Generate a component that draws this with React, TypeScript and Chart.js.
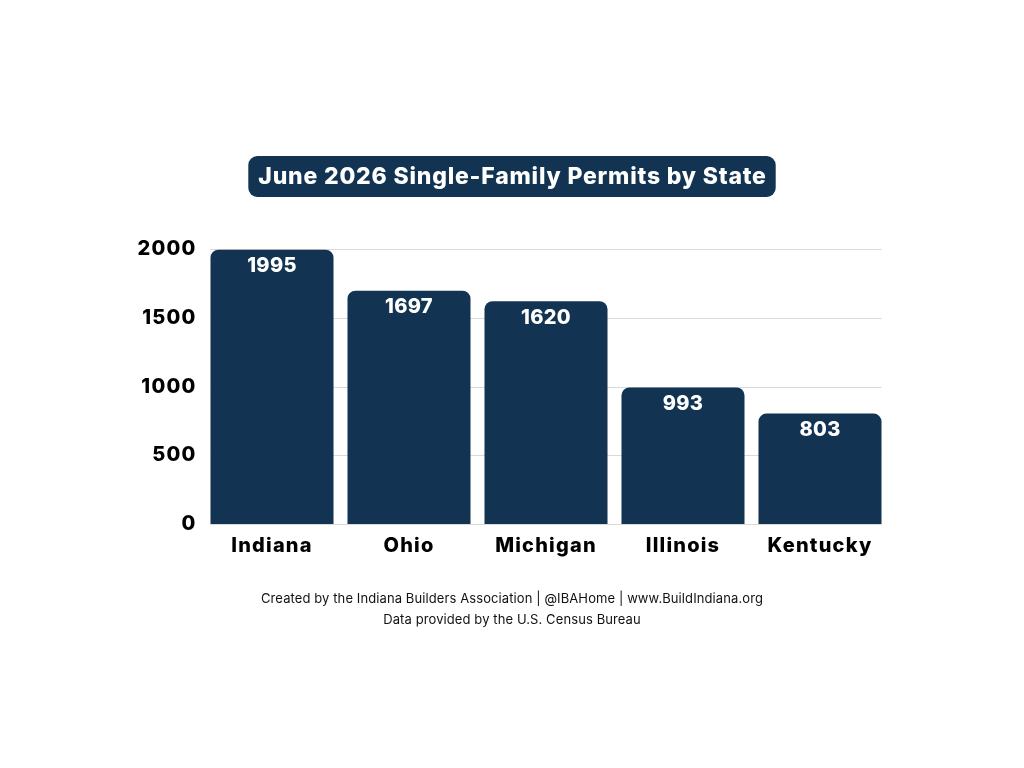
import React, { useEffect, useRef } from "react";
import { Chart, registerables } from "chart.js";

Chart.register(...registerables);

const states = ["Indiana", "Ohio", "Michigan", "Illinois", "Kentucky"];
const permits = [1995, 1697, 1620, 993, 803];
const yTicks = [0, 500, 1000, 1500, 2000];

const titleText = "June 2026 Single-Family Permits by State";
const footerLines = [
  "Created by the Indiana Builders Association | @IBAHome | www.BuildIndiana.org",
  "Data provided by the U.S. Census Bureau",
];

const NAVY = "#123452";
const GRID = "#d9d9d9";
const FONT = "Inter, 'Open Sans', sans-serif";

function roundRect(ctx: CanvasRenderingContext2D, x: number, y: number, w: number, h: number, r: number) {
  ctx.beginPath();
  ctx.moveTo(x + r, y);
  ctx.lineTo(x + w - r, y);
  ctx.arcTo(x + w, y, x + w, y + r, r);
  ctx.lineTo(x + w, y + h - r);
  ctx.arcTo(x + w, y + h, x + w - r, y + h, r);
  ctx.lineTo(x + r, y + h);
  ctx.arcTo(x, y + h, x, y + h - r, r);
  ctx.lineTo(x, y + r);
  ctx.arcTo(x, y, x + r, y, r);
  ctx.closePath();
}

// Gridlines spanning the bars, title badge, footer notes and value labels
const decorations = {
  id: "decorations",
  beforeDraw(chart: any) {
    // slightly wider tracking for the axis labels
    (chart.ctx as any).letterSpacing = "1.2px";
  },
  beforeDatasetsDraw(chart: any) {
    const ctx = chart.ctx as CanvasRenderingContext2D;
    const meta = chart.getDatasetMeta(0);
    const first = meta.data[0].getProps(["x", "width"], true);
    const last = meta.data[meta.data.length - 1].getProps(["x", "width"], true);
    const x0 = first.x - first.width / 2;
    const x1 = last.x + last.width / 2;
    const yScale = chart.scales.y;
    ctx.save();
    ctx.strokeStyle = GRID;
    ctx.lineWidth = 1;
    for (const t of yTicks) {
      const y = Math.round(yScale.getPixelForValue(t)) + 0.5;
      ctx.beginPath();
      ctx.moveTo(x0, y);
      ctx.lineTo(x1, y);
      ctx.stroke();
    }
    ctx.restore();
  },
  afterDraw(chart: any) {
    const ctx = chart.ctx as any;
    const meta = chart.getDatasetMeta(0);
    const cx = chart.width / 2;
    ctx.save();
    ctx.textAlign = "center";
    ctx.textBaseline = "middle";

    // Title badge
    ctx.font = `800 23px ${FONT}`;
    ctx.letterSpacing = "0.8px";
    const tw = ctx.measureText(titleText).width;
    const bw = tw + 19;
    const bh = 41;
    const by = 156;
    ctx.fillStyle = NAVY;
    roundRect(ctx, cx - bw / 2, by, bw, bh, 9);
    ctx.fill();
    ctx.fillStyle = "#ffffff";
    ctx.fillText(titleText, cx + 0.5, by + bh / 2 + 1);

    // Value labels inside the top of each bar
    ctx.font = `800 20px ${FONT}`;
    ctx.letterSpacing = "0.3px";
    meta.data.forEach((bar: any, i: number) => {
      const p = bar.getProps(["x", "y"], true);
      ctx.fillText(String(permits[i]), p.x, p.y + 16.5);
    });

    // Footer notes
    ctx.fillStyle = "#111111";
    ctx.font = `400 13px ${FONT}`;
    ctx.letterSpacing = "0.1px";
    ctx.fillText(footerLines[0], cx, 599);
    ctx.fillText(footerLines[1], cx, 620);
    ctx.restore();
  },
};

export default function App() {
  const canvasRef = useRef<HTMLCanvasElement | null>(null);

  useEffect(() => {
    if (!canvasRef.current) return;
    const chart = new Chart(canvasRef.current, {
      type: "bar",
      data: {
        labels: states,
        datasets: [
          {
            data: permits,
            backgroundColor: NAVY,
            borderRadius: { topLeft: 8, topRight: 8, bottomLeft: 0, bottomRight: 0 },
            borderSkipped: "bottom",
            barPercentage: 0.898,
            categoryPercentage: 1,
          },
        ],
      },
      options: {
        animation: false,
        responsive: false,
        layout: { padding: { top: 249, right: 135.5, left: 0, bottom: 0 } },
        plugins: {
          legend: { display: false },
          tooltip: { enabled: false },
          title: { display: false },
        },
        scales: {
          x: {
            grid: { display: false, drawTicks: false },
            border: { display: false },
            ticks: {
              color: "#000000",
              font: { family: FONT, size: 20, weight: "800" },
              padding: 10,
            },
            afterFit(scale: any) {
              scale.height = 244;
            },
          },
          y: {
            min: 0,
            max: 2000,
            afterBuildTicks(scale: any) {
              scale.ticks = yTicks.map((v) => ({ value: v }));
            },
            grid: { display: false, drawTicks: false },
            border: { display: false },
            ticks: {
              color: "#000000",
              font: { family: FONT, size: 20, weight: "800" },
              padding: 7,
              callback: (v: any) => String(v),
            },
            afterFit(scale: any) {
              scale.width = 203.5;
            },
          },
        },
      },
      plugins: [decorations],
    });
    return () => chart.destroy();
  }, []);

  return (
    <div style={{ position: "fixed", left: 0, top: 0, width: 1024, height: 768, background: "#ffffff" }}>
      <canvas ref={canvasRef} width={1024} height={768} style={{ display: "block" }} />
    </div>
  );
}
